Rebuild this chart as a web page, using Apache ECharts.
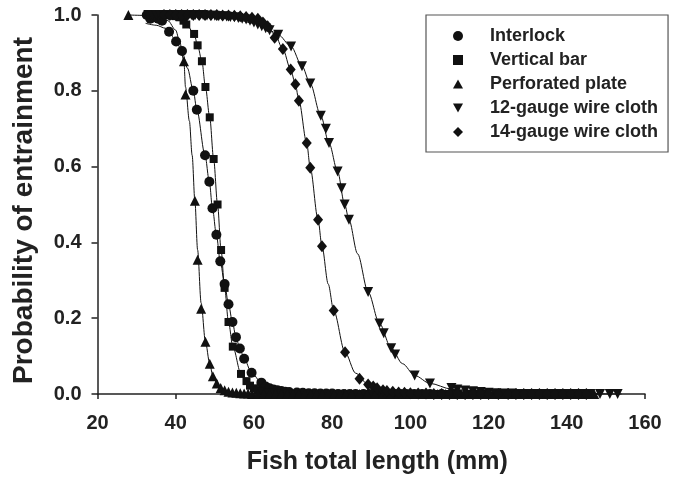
<!DOCTYPE html>
<html><head><meta charset="utf-8">
<script src="https://cdn.jsdelivr.net/npm/echarts@6/dist/echarts.min.js"></script>
<style>html,body{margin:0;padding:0;background:#fff}#c{width:675px;height:480px}</style>
</head><body><div id="c"></div>
<script>
// ---- data (fish total length mm, probability of entrainment) ----
const seriesNames = ['Interlock', 'Vertical bar', 'Perforated plate', '12-gauge wire cloth', '14-gauge wire cloth'];
const xTicks = [20, 40, 60, 80, 100, 120, 140, 160];
const yTicks = [0.0, 0.2, 0.4, 0.6, 0.8, 1.0];

const interlockPts = [[32.6,1.0],[33.5,0.99],[34.5,0.995],[35.5,0.99],[36.5,0.985],[38.3,0.956],[40.1,0.93],[41.6,0.905],[44.5,0.80],[45.4,0.75],[47.5,0.63],[48.6,0.56],[49.4,0.49],[50.4,0.42],[51.4,0.35],[52.5,0.29],[53.5,0.237],[54.5,0.19],[55.4,0.15],[56.4,0.12],[57.5,0.093],[59.4,0.056],[61.9,0.03],[63,0.02],[64,0.015],[65,0.012],[66,0.01],[67,0.008],[68,0.006],[69,0.005],[71,0.004],[72.5,0.003],[74,0.002],[75.5,0.002],[77,0.001],[78.5,0.001],[80,0.001],[81.5,0],[83,0],[84.5,0],[86,0],[88,0],[89.5,0],[91,0],[92.5,0],[94,0],[96,0],[97.5,0],[99,0],[101,0],[103,0],[105,0],[108,0],[111,0]];
const interlockFit = [[32.3,0.978],[35,0.973],[37.4,0.965],[38.3,0.956],[40.1,0.93],[41.6,0.905],[43,0.86],[44.5,0.80],[45.4,0.75],[47.5,0.63],[48.6,0.56],[49.4,0.49],[50.4,0.42],[51.4,0.35],[52.5,0.29],[53.5,0.237],[54.5,0.19],[55.4,0.15],[56.4,0.12],[57.5,0.093],[59.4,0.056],[61.9,0.03],[65,0.014],[70,0.005],[80,0.001],[111,0]];

const barPts = [[36,1.0],[37,1.0],[38,1.0],[39,0.998],[40,0.997],[41,0.994],[42,0.985],[42.7,0.975],[44.7,0.95],[45.6,0.92],[46.7,0.878],[47.6,0.81],[48.7,0.73],[49.7,0.62],[50.7,0.50],[51.6,0.38],[52.5,0.28],[53.5,0.19],[54.6,0.125],[56.7,0.053],[58.1,0.034],[59,0.022],[60,0.015],[61,0.01],[62,0.007],[63.5,0.004],[64.5,0.003],[66,0.002],[67,0.001],[68.5,0.001],[70,0],[71.5,0],[73,0],[74.5,0],[76,0],[77.5,0],[79,0],[80.5,0],[82,0],[84,0],[86,0],[88,0],[90,0],[92,0],[94,0],[96,0],[98,0],[100,0],[102,0],[104.5,0],[107,0],[109.5,0],[112,0],[114.5,0],[117,0],[119.5,0],[122,0],[125,0]];
const barFit = [[36,0.999],[40,0.994],[42.7,0.977],[44.7,0.95],[45.6,0.92],[46.7,0.878],[47.6,0.81],[48.7,0.73],[49.7,0.62],[50.7,0.50],[51.6,0.38],[52.5,0.28],[53.5,0.19],[54.6,0.125],[56.7,0.053],[58.1,0.034],[60,0.016],[63,0.005],[68,0.001],[125,0]];

const platePts = [[27.9,1.0],[42.1,0.878],[42.5,0.79],[44.9,0.51],[45.6,0.354],[46.5,0.225],[47.6,0.138],[48.7,0.08],[49.5,0.047],[50.5,0.028],[51.5,0.016],[52.5,0.01],[53.5,0.006],[54.5,0.004],[55.5,0.003],[56.5,0.002],[57.5,0.001],[58.5,0.001],[59.5,0],[61,0],[62.5,0],[64,0],[65.5,0],[67,0],[68.5,0],[70,0],[71.5,0],[73,0],[74.5,0],[76,0],[77.5,0],[79,0],[80.5,0],[82,0],[83.5,0],[85,0],[87,0],[89,0],[91,0],[93,0],[95,0],[97,0],[99,0],[101,0],[103,0],[105,0],[107,0],[109,0],[111,0],[113,0],[115,0],[117,0],[119,0],[121,0],[123,0],[125,0],[127,0],[129,0],[131,0],[133,0],[135,0],[137,0],[139,0],[141,0],[143,0],[145,0],[147,0]];
const plateFit = [[27.9,1.0],[32,0.999],[36,0.995],[38,0.985],[40,0.96],[41,0.93],[42.1,0.878],[42.5,0.81],[43.5,0.72],[44.2,0.63],[44.9,0.51],[45.6,0.38],[46.5,0.24],[47.6,0.138],[48.7,0.08],[49.5,0.047],[50.5,0.028],[52,0.012],[55,0.003],[60,0.0005],[148,0]];

const g12Pts = [[33,1.0],[34,1],[35,1],[36,1],[37,1],[38,1],[39,1],[40,1],[41,1],[42,1],[43,1],[44,1],[45,1],[46,1],[47,1],[48,0.999],[49,0.998],[50,0.998],[51,0.997],[52,0.997],[53,0.996],[54,0.995],[55,0.994],[56,0.992],[57,0.99],[58,0.988],[59,0.985],[60,0.98],[61,0.975],[62,0.97],[63,0.965],[64,0.96],[66.2,0.948],[69.5,0.917],[72.3,0.865],[74.4,0.819],[77.1,0.734],[78.4,0.70],[79.2,0.662],[81.4,0.587],[82.4,0.543],[83.2,0.50],[84.3,0.46],[89.2,0.269],[92.1,0.186],[93.2,0.16],[95.1,0.121],[96.1,0.104],[101.1,0.049],[105,0.028],[110.5,0.016],[112,0.012],[114,0.009],[116,0.007],[118,0.005],[120,0.003],[122,0.002],[124,0.001],[126,0.001],[128,0],[130,0],[132,0],[134,0],[136,0],[138,0],[140,0],[142,0],[144,0],[146,0],[148.5,0],[151,0],[153,0]];
const g12Fit = [[33,0.999],[45,0.997],[55,0.99],[60,0.978],[64,0.96],[66.2,0.948],[69.5,0.917],[72.3,0.865],[74.4,0.819],[77.1,0.734],[79.2,0.662],[81.4,0.587],[83.2,0.50],[84.3,0.46],[86.5,0.37],[89.2,0.269],[92.1,0.186],[95.1,0.121],[98,0.08],[101.1,0.049],[105,0.028],[110.5,0.013],[118,0.004],[130,0.001],[154,0]];

const g14Pts = [[37,1],[38.5,1],[40,1],[41.5,1],[43,1],[44.5,1],[46,1],[47.5,1],[49,1],[50.5,1],[52,0.999],[53.5,0.999],[55,0.998],[56.5,0.997],[58,0.995],[59.5,0.993],[61,0.99],[62.3,0.98],[63.5,0.97],[65.3,0.94],[67.4,0.91],[69.4,0.856],[70.6,0.817],[71.5,0.774],[73.5,0.662],[74.4,0.597],[76.4,0.46],[77.4,0.39],[80.4,0.22],[83.3,0.11],[87,0.04],[89.2,0.025],[90.5,0.02],[91.5,0.015],[93,0.01],[94,0.008],[95.5,0.006],[97,0.004],[98.5,0.003],[100,0.002],[102,0.001],[104,0.001],[106,0],[108,0],[110,0],[112,0],[114,0],[116,0],[118,0],[120,0],[122.5,0],[125,0],[127,0],[129,0],[131,0],[133,0],[135,0],[137,0],[139,0],[141,0],[143,0],[145,0]];
const g14Fit = [[37,1],[50,0.999],[58,0.994],[62,0.982],[65.3,0.95],[67.4,0.91],[69.4,0.856],[70.6,0.817],[71.5,0.774],[73.5,0.662],[74.4,0.597],[76.4,0.46],[77.4,0.39],[79,0.29],[80.4,0.22],[83.3,0.11],[86,0.055],[89.2,0.025],[93,0.01],[100,0.002],[148,0]];

// ---- chart ----
const FONT = '"Liberation Sans", Arial, Helvetica, sans-serif';
const INK = '#111';
const pts = [interlockPts, barPts, platePts, g12Pts, g14Pts];
const fits = [interlockFit, barFit, plateFit, g12Fit, g14Fit];
const symbols = [
  {symbol: 'circle', symbolSize: 10, symbolRotate: 0},
  {symbol: 'rect', symbolSize: 8, symbolRotate: 0},
  {symbol: 'triangle', symbolSize: 10, symbolRotate: 0},
  {symbol: 'triangle', symbolSize: 10, symbolRotate: 180},
  {symbol: 'diamond', symbolSize: [10, 12], symbolRotate: 0}
];
const legendIcons = [
  'circle',
  'rect',
  'path://M5,0 L10,9 L0,9 Z',
  'path://M0,0 L10,0 L5,9 Z',
  'diamond'
];
const legendSizes = [9, 8, 10, 10, 11];

const series = [];
fits.forEach((f, i) => {
  series.push({
    name: seriesNames[i] + ' fit', type: 'line', data: f, showSymbol: false,
    smooth: 0.3, smoothMonotone: 'x', silent: true, clip: false, z: 2,
    lineStyle: {color: INK, width: 1}, itemStyle: {color: INK}
  });
});
pts.forEach((p, i) => {
  series.push(Object.assign({
    name: seriesNames[i], type: 'scatter', data: p, clip: false, z: 3,
    symbolKeepAspect: true,
    itemStyle: {color: INK, opacity: 1}
  }, symbols[i]));
});

const chart = echarts.init(document.getElementById('c'), null, {renderer: 'canvas'});
chart.setOption({
  animation: false,
  backgroundColor: '#fff',
  grid: {left: 97.5, right: 30, top: 15, bottom: 82.5, containLabel: false},
  xAxis: {
    type: 'value', min: xTicks[0], max: xTicks[xTicks.length - 1], interval: 20,
    name: 'Fish total length (mm)', nameLocation: 'middle', nameGap: 56,
    nameTextStyle: {fontFamily: FONT, fontWeight: 'bold', fontSize: 25, color: '#222', padding: [0, 0, 0, 12]},
    axisLine: {show: true, lineStyle: {color: '#222', width: 1.5}},
    axisTick: {show: true, inside: false, length: 5, lineStyle: {color: '#222', width: 1.5}},
    axisLabel: {fontFamily: FONT, fontWeight: 'bold', fontSize: 20, color: '#222', margin: 19},
    splitLine: {show: false}
  },
  yAxis: {
    type: 'value', min: yTicks[0], max: yTicks[yTicks.length - 1], interval: 0.2,
    name: 'Probability of entrainment', nameLocation: 'middle', nameGap: 59, nameRotate: 90,
    nameTextStyle: {fontFamily: FONT, fontWeight: 'bold', fontSize: 28, color: '#222', padding: [0, 12, 0, 0]},
    axisLine: {show: true, lineStyle: {color: '#222', width: 1.5}},
    axisTick: {show: true, inside: false, length: 6, lineStyle: {color: '#222', width: 1.5}},
    axisLabel: {fontFamily: FONT, fontWeight: 'bold', fontSize: 20, color: '#222', margin: 16,
      formatter: v => v.toFixed(1)},
    splitLine: {show: false}
  },
  legend: {
    data: seriesNames.map((n, i) => ({name: n, icon: legendIcons[i]})),
    orient: 'vertical', left: 426, top: 15,
    padding: [12, 10, 11, 27], itemWidth: 10, itemHeight: 10, itemGap: 6,
    symbolKeepAspect: true,
    borderColor: '#555', borderWidth: 1.2, backgroundColor: '#fff',
    textStyle: {fontFamily: FONT, fontWeight: 'bold', fontSize: 18, lineHeight: 18, color: '#222', padding: [0, 0, 0, 22]},
    selectedMode: false
  },
  series: series
});
</script>
</body></html>
